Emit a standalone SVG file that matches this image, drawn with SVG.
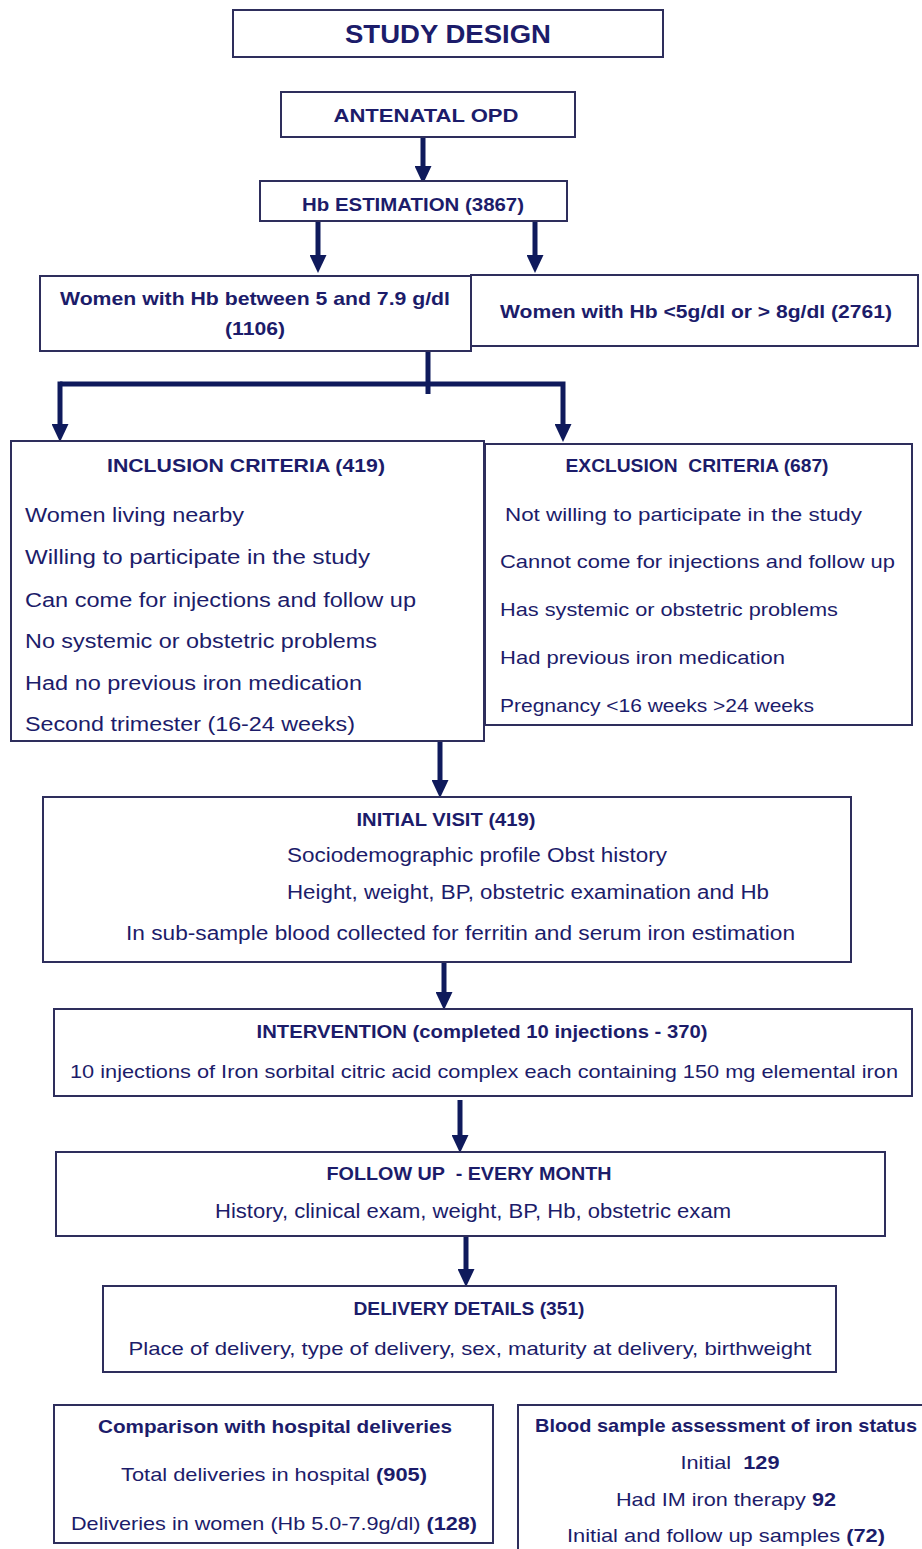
<svg xmlns="http://www.w3.org/2000/svg" width="922" height="1549" viewBox="0 0 922 1549">
<style>
.box{fill:#fff;stroke:#2e2e5c;stroke-width:2}
text{font-family:"Liberation Sans",Arial,sans-serif;fill:#1c1c6a}
.b{font-weight:bold}
.c{text-anchor:middle}
.conn{stroke:#0f1a5c;stroke-width:5;fill:none}
</style>
<defs>
<marker id="ah" markerWidth="3.6" markerHeight="3.4" refX="1.4" refY="1.7" orient="auto" markerUnits="strokeWidth">
<path d="M0,0 L3.6,1.7 L0,3.4 z" fill="#0f1a5c"/>
</marker>
</defs>
<rect width="922" height="1549" fill="#fff"/>
<g id="connectors">
<line class="conn" x1="423" y1="137" x2="423" y2="173" marker-end="url(#ah)"/>
<line class="conn" x1="318" y1="222" x2="318" y2="262" marker-end="url(#ah)"/>
<line class="conn" x1="535" y1="222" x2="535" y2="262" marker-end="url(#ah)"/>
<line class="conn" x1="428" y1="351" x2="428" y2="394"/>
<polyline class="conn" points="60,384 563,384 563,431" marker-end="url(#ah)"/>
<line class="conn" x1="60" y1="381.5" x2="60" y2="431" marker-end="url(#ah)"/>
<line class="conn" x1="440" y1="742" x2="440" y2="787" marker-end="url(#ah)"/>
<line class="conn" x1="444" y1="962" x2="444" y2="999" marker-end="url(#ah)"/>
<line class="conn" x1="460" y1="1100" x2="460" y2="1142" marker-end="url(#ah)"/>
<line class="conn" x1="466" y1="1236" x2="466" y2="1276" marker-end="url(#ah)"/>
</g>
<g id="study-design">
<rect class="box" x="233" y="10" width="430" height="47"/>
<text class="b c" x="448" y="43" font-size="26" textLength="206" lengthAdjust="spacingAndGlyphs">STUDY DESIGN</text>
</g>
<g id="antenatal-opd">
<rect class="box" x="281" y="92" width="294" height="45"/>
<text class="b c" x="426" y="122" font-size="19" textLength="185" lengthAdjust="spacingAndGlyphs">ANTENATAL OPD</text>
</g>
<g id="hb-estimation">
<rect class="box" x="260" y="181" width="307" height="40"/>
<text class="b c" x="413" y="211" font-size="19" textLength="222" lengthAdjust="spacingAndGlyphs">Hb ESTIMATION (3867)</text>
</g>
<g id="hb-between">
<rect class="box" x="40" y="276" width="431" height="75"/>
<text class="b c" x="255" y="305" font-size="19" textLength="390" lengthAdjust="spacingAndGlyphs">Women with Hb between 5 and 7.9 g/dl</text>
<text class="b c" x="255" y="335" font-size="19" textLength="60" lengthAdjust="spacingAndGlyphs">(1106)</text>
</g>
<g id="hb-outside">
<rect class="box" x="471" y="275" width="447" height="71"/>
<text class="b c" x="696" y="318" font-size="19" textLength="392" lengthAdjust="spacingAndGlyphs">Women with Hb &lt;5g/dl or &gt; 8g/dl (2761)</text>
</g>
<g id="inclusion">
<rect class="box" x="11" y="441" width="473" height="300"/>
<text class="b c" x="246" y="472" font-size="19" textLength="278" lengthAdjust="spacingAndGlyphs">INCLUSION CRITERIA (419)</text>
<text x="25" y="522" font-size="20" textLength="219" lengthAdjust="spacingAndGlyphs">Women  living nearby</text>
<text x="25" y="564" font-size="20" textLength="345" lengthAdjust="spacingAndGlyphs">Willing to participate in the study</text>
<text x="25" y="607" font-size="20" textLength="391" lengthAdjust="spacingAndGlyphs">Can come for injections and follow up</text>
<text x="25" y="648" font-size="20" textLength="352" lengthAdjust="spacingAndGlyphs">No systemic or obstetric problems</text>
<text x="25" y="690" font-size="20" textLength="337" lengthAdjust="spacingAndGlyphs">Had no previous iron medication</text>
<text x="25" y="731" font-size="20" textLength="330" lengthAdjust="spacingAndGlyphs">Second trimester (16-24 weeks)</text>
</g>
<g id="exclusion">
<rect class="box" x="485" y="444" width="427" height="281"/>
<text class="b c" x="697" y="472" font-size="19" textLength="263" lengthAdjust="spacingAndGlyphs" xml:space="preserve">EXCLUSION  CRITERIA (687)</text>
<text x="505" y="521" font-size="19" textLength="357" lengthAdjust="spacingAndGlyphs">Not willing to participate in the study</text>
<text x="500" y="568" font-size="19" textLength="395" lengthAdjust="spacingAndGlyphs">Cannot come for injections and follow up</text>
<text x="500" y="616" font-size="19" textLength="338" lengthAdjust="spacingAndGlyphs">Has systemic or obstetric problems</text>
<text x="500" y="664" font-size="19" textLength="285" lengthAdjust="spacingAndGlyphs">Had previous iron medication</text>
<text x="500" y="712" font-size="19" textLength="314" lengthAdjust="spacingAndGlyphs">Pregnancy &lt;16 weeks &gt;24 weeks</text>
</g>
<g id="initial-visit">
<rect class="box" x="43" y="797" width="808" height="165"/>
<text class="b c" x="446" y="826" font-size="18" textLength="179" lengthAdjust="spacingAndGlyphs">INITIAL VISIT (419)</text>
<text x="287" y="862" font-size="20" textLength="380" lengthAdjust="spacingAndGlyphs">Sociodemographic profile Obst history</text>
<text x="287" y="899" font-size="20" textLength="482" lengthAdjust="spacingAndGlyphs">Height, weight, BP, obstetric examination and Hb</text>
<text x="126" y="940" font-size="20" textLength="669" lengthAdjust="spacingAndGlyphs">In sub-sample blood collected for ferritin and serum iron estimation</text>
</g>
<g id="intervention">
<rect class="box" x="54" y="1009" width="858" height="87"/>
<text class="b c" x="482" y="1038" font-size="18" textLength="451" lengthAdjust="spacingAndGlyphs">INTERVENTION (completed 10 injections - 370)</text>
<text class="c" x="484" y="1078" font-size="19" textLength="828" lengthAdjust="spacingAndGlyphs">10 injections of Iron sorbital citric acid complex each containing 150 mg elemental iron</text>
</g>
<g id="follow-up">
<rect class="box" x="56" y="1152" width="829" height="84"/>
<text class="b c" x="469" y="1180" font-size="18" textLength="285" lengthAdjust="spacingAndGlyphs" xml:space="preserve">FOLLOW UP  - EVERY MONTH</text>
<text class="c" x="473" y="1218" font-size="20" textLength="516" lengthAdjust="spacingAndGlyphs">History, clinical exam, weight, BP, Hb, obstetric exam</text>
</g>
<g id="delivery">
<rect class="box" x="103" y="1286" width="733" height="86"/>
<text class="b c" x="469" y="1315" font-size="18" textLength="231" lengthAdjust="spacingAndGlyphs">DELIVERY DETAILS (351)</text>
<text class="c" x="470" y="1355" font-size="19" textLength="683" lengthAdjust="spacingAndGlyphs">Place of delivery, type of delivery, sex, maturity at delivery, birthweight</text>
</g>
<g id="comparison">
<rect class="box" x="54" y="1405" width="439" height="138"/>
<text class="b c" x="275" y="1433" font-size="19" textLength="354" lengthAdjust="spacingAndGlyphs">Comparison with hospital deliveries</text>
<text class="c" x="274" y="1481" font-size="19" textLength="306" lengthAdjust="spacingAndGlyphs">Total deliveries in hospital <tspan class="b">(905)</tspan></text>
<text class="c" x="274" y="1530" font-size="19" textLength="406" lengthAdjust="spacingAndGlyphs">Deliveries in women (Hb 5.0-7.9g/dl) <tspan class="b">(128)</tspan></text>
</g>
<g id="blood-sample">
<rect class="box" x="518" y="1405" width="410" height="150"/>
<text class="b c" x="726" y="1432" font-size="19" textLength="382" lengthAdjust="spacingAndGlyphs">Blood sample assessment of iron status</text>
<text class="c" x="730" y="1469" font-size="19" textLength="99" lengthAdjust="spacingAndGlyphs" xml:space="preserve">Initial  <tspan class="b">129</tspan></text>
<text class="c" x="726" y="1506" font-size="19" textLength="220" lengthAdjust="spacingAndGlyphs">Had IM iron therapy <tspan class="b">92</tspan></text>
<text class="c" x="726" y="1542" font-size="19" textLength="318" lengthAdjust="spacingAndGlyphs">Initial and follow up samples <tspan class="b">(72)</tspan></text>
</g>
</svg>
